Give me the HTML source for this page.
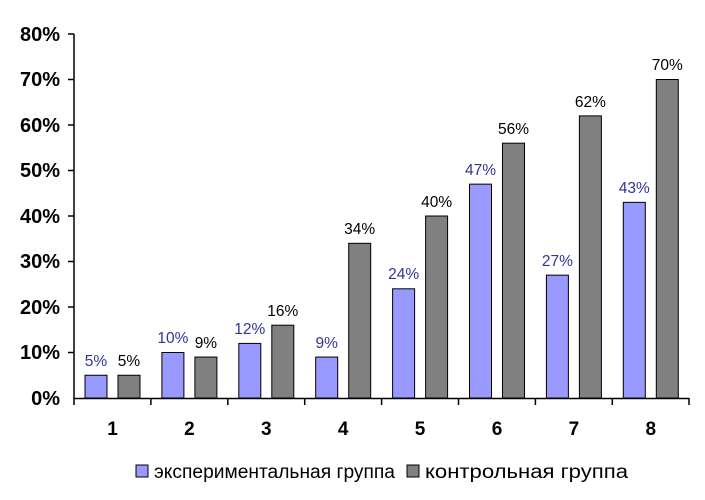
<!DOCTYPE html><html><head><style>body{margin:0;background:#fff}</style></head><body>
<svg width="705" height="495" xmlns="http://www.w3.org/2000/svg" font-family="Liberation Sans, Arial, sans-serif">
<g font-size="20" font-weight="bold" text-anchor="end" fill="#000">
<text x="60" y="405">0%</text><text x="60" y="359">10%</text><text x="60" y="314">20%</text><text x="60" y="268">30%</text><text x="60" y="223">40%</text><text x="60" y="177">50%</text><text x="60" y="132">60%</text><text x="60" y="86">70%</text><text x="60" y="41">80%</text>
</g>
<g stroke="#000" stroke-width="1.5">
<line x1="74" y1="34" x2="74" y2="399"/><line x1="74" y1="398.5" x2="689" y2="398.5"/>
<line x1="68" y1="34" x2="74" y2="34"/><line x1="68" y1="79.5" x2="74" y2="79.5"/><line x1="68" y1="125" x2="74" y2="125"/><line x1="68" y1="170.5" x2="74" y2="170.5"/><line x1="68" y1="216" x2="74" y2="216"/><line x1="68" y1="261.5" x2="74" y2="261.5"/><line x1="68" y1="307" x2="74" y2="307"/><line x1="68" y1="352.5" x2="74" y2="352.5"/>
<line x1="74" y1="398" x2="74" y2="405"/><line x1="150.9" y1="398" x2="150.9" y2="405"/><line x1="227.8" y1="398" x2="227.8" y2="405"/><line x1="304.7" y1="398" x2="304.7" y2="405"/><line x1="381.6" y1="398" x2="381.6" y2="405"/><line x1="458.5" y1="398" x2="458.5" y2="405"/><line x1="535.4" y1="398" x2="535.4" y2="405"/><line x1="612.3" y1="398" x2="612.3" y2="405"/><line x1="689" y1="398" x2="689" y2="405"/>
</g>
<g stroke="#000" stroke-width="1" fill="#9999ff">
<rect x="85" y="375.25" width="22" height="22.75"/>
<rect x="161.9" y="352.5" width="22" height="45.5"/>
<rect x="238.8" y="343.4" width="22" height="54.6"/>
<rect x="315.7" y="357.05" width="22" height="40.95"/>
<rect x="392.6" y="288.8" width="22" height="109.2"/>
<rect x="469.5" y="184.15" width="22" height="213.85"/>
<rect x="546.4" y="275.15" width="22" height="122.85"/>
<rect x="623.3" y="202.35" width="22" height="195.65"/>
</g>
<g stroke="#000" stroke-width="1" fill="#808080">
<rect x="118" y="375.25" width="22" height="22.75"/>
<rect x="194.9" y="357.05" width="22" height="40.95"/>
<rect x="271.8" y="325.2" width="22" height="72.8"/>
<rect x="348.7" y="243.3" width="22" height="154.7"/>
<rect x="425.6" y="216" width="22" height="182"/>
<rect x="502.5" y="143.2" width="22" height="254.8"/>
<rect x="579.4" y="115.9" width="22" height="282.1"/>
<rect x="656.3" y="79.5" width="22" height="318.5"/>
</g>
<g font-size="15.5" text-anchor="middle" fill="#333399">
<text x="96" y="366">5%</text><text x="172.9" y="343">10%</text><text x="249.8" y="334">12%</text><text x="326.7" y="348">9%</text><text x="403.6" y="279">24%</text><text x="480.5" y="175">47%</text><text x="557.4" y="266">27%</text><text x="634.3" y="193">43%</text>
</g>
<g font-size="15.5" text-anchor="middle" fill="#000">
<text x="129" y="366">5%</text><text x="205.9" y="348">9%</text><text x="282.8" y="316">16%</text><text x="359.7" y="234">34%</text><text x="436.6" y="207">40%</text><text x="513.5" y="134">56%</text><text x="590.4" y="107">62%</text><text x="667.3" y="70">70%</text>
</g>
<g font-size="19" font-weight="bold" text-anchor="middle">
<text x="112.5" y="435">1</text><text x="189.4" y="435">2</text><text x="266.3" y="435">3</text><text x="343.2" y="435">4</text><text x="420.1" y="435">5</text><text x="497" y="435">6</text><text x="573.9" y="435">7</text><text x="650.8" y="435">8</text>
</g>
<rect x="136" y="465" width="12" height="12" fill="#9999ff" stroke="#000"/>
<text x="154" y="478" font-size="19" textLength="241" lengthAdjust="spacingAndGlyphs">экспериментальная группа</text>
<rect x="407" y="465" width="12" height="12" fill="#808080" stroke="#000"/>
<text x="425" y="478" font-size="19" textLength="203" lengthAdjust="spacingAndGlyphs">контрольная группа</text>
</svg></body></html>
